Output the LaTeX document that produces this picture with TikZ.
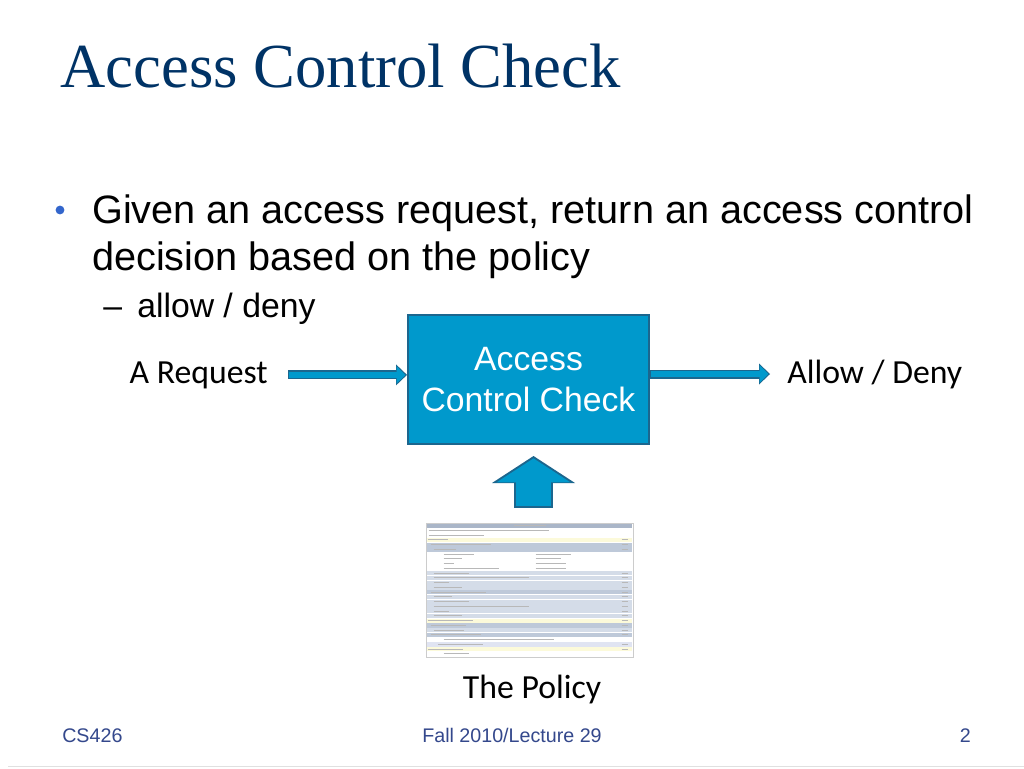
\documentclass[tikz,border=0pt]{standalone}
\usepackage{fontspec}
\setmainfont{Liberation Sans}
\newfontfamily\titlefont{Liberation Serif}
\newfontfamily\calfont{Carlito}
\usepackage{tikz}
\usetikzlibrary{arrows.meta,calc}

\definecolor{titleblue}{RGB}{0,51,102}
\definecolor{bulletblue}{RGB}{51,102,204}
\definecolor{footblue}{RGB}{52,72,140}
\definecolor{boxfill}{RGB}{0,153,204}
\definecolor{boxline}{RGB}{28,102,142}
\definecolor{hd}{RGB}{170,182,200}
\definecolor{bl}{RGB}{190,201,217}
\definecolor{lt}{RGB}{212,220,232}
\definecolor{yl}{RGB}{252,250,218}
\definecolor{lv}{RGB}{224,228,242}
\definecolor{wt}{RGB}{255,255,255}

\begin{document}
\begin{tikzpicture}[x=0.25mm,y=-0.25mm,inner sep=0pt]
\tikzstyle{label}=[font=\calfont\fontsize{24}{29}\selectfont]
\tikzstyle{body}=[font=\fontsize{28.2}{34}\selectfont,anchor=base west]
\tikzstyle{foot}=[font=\fontsize{14}{17}\selectfont,text=footblue]
\tikzstyle{checkbox}=[draw=boxline,line width=0.5mm,fill=boxfill,text=white,
    minimum width=60.25mm,minimum height=32.25mm,align=center,
    font=\fontsize{24}{29}\selectfont]
\tikzstyle{flowout}=[draw=boxline,line width=2.25mm,
    -{Triangle[length=2.75mm,width=5.25mm,line width=0pt]}]
\tikzstyle{flowin}=[draw=boxfill,line width=1.6mm,shorten >=0.4mm,shorten <=0.25mm,
    -{Triangle[length=2.2mm,width=4.35mm,line width=0pt]}]
\tikzstyle{bigout}=[draw=boxline,line width=9.75mm,
    -{Triangle[length=6.75mm,width=20.75mm,line width=0pt]}]
\tikzstyle{bigin}=[draw=boxfill,line width=8.75mm,shorten >=0.6mm,shorten <=0.5mm,
    -{Triangle[length=6mm,width=18.5mm,line width=0pt]}]
\tikzstyle{txt}=[draw=black!28,line width=0.22mm]

\useasboundingbox[fill=white] (0,0) rectangle (1024,768);

% title and bullets
\node[anchor=base west,text=titleblue,font=\titlefont\fontsize{44.6}{50}\selectfont]
    (title) at (60,87) {Access Control Check};
\fill[bulletblue] (60,210) circle[radius=1.1mm];
\node[body] (line1) at (92,223) {Given an access request, return an access control};
\node[body] (line2) at (92,270) {decision based on the policy};
\node[body,font=\fontsize{24}{29}\selectfont] (dash) at (103,317) {--};
\node[body,font=\fontsize{24}{29}\selectfont] (sub) at (137,317) {allow / deny};

% the check
\node[checkbox] (acc) at (528.5,379.5) {Access\\Control Check};
\node[label,anchor=base east] (req) at (268,383) {A Request};
\node[label,anchor=base west] (dec) at (787,383) {Allow / Deny};
\node[draw=black!20,line width=0.2mm,fill=white,minimum width=51.75mm,
    minimum height=33.5mm] (pol) at (529.5,590) {};
\node[label,anchor=base] (poltext) at (532,698) {The Policy};

\draw[flowout] ([xshift=5mm]req.east) -- (req.east -| acc.west);
\draw[flowin] ([xshift=5mm]req.east) -- (req.east -| acc.west);
\draw[flowout] (dec.west -| acc.east) -- ([xshift=-4.25mm]dec.west);
\draw[flowin] (dec.west -| acc.east) -- ([xshift=-4.25mm]dec.west);
\draw[bigout] ($(pol.north)+(4,-15)$) -- ($(acc.south)+(5,11)$);
\draw[bigin] ($(pol.north)+(4,-15)$) -- ($(acc.south)+(5,11)$);

% the policy page
\begin{scope}[shift={(pol.north west)}]
\foreach \i/\c/\x/\w in {0/hd/88/32,1/wt/3/120,2/wt/3/55,3/yl/2/20,4/bl/5/60,
    5/bl/8/22,6/wt/18/30,7/wt/18/18,8/wt/18/10,9/wt/18/55,10/lt/8/35,11/lt/8/95,
    12/lt/8/15,13/lt/8/28,14/bl/5/55,15/lt/8/18,16/lt/8/35,17/lt/8/95,18/lt/8/15,
    19/lt/8/28,20/yl/2/45,21/bl/5/35,22/lt/8/30,23/bl/5/50,24/wt/18/110,
    25/lv/12/45,26/yl/2/35,27/wt/18/25}{
  \fill[\c] (1,\i*4.75+0.9) rectangle (206,\i*4.75+5.2);
  \draw[txt] (\x,\i*4.75+3) -- ++(\w,0);
}
\foreach \i in {3,4,5,10,11,12,13,14,15,16,17,18,19,20,21,22,23,25,26}
  \draw[txt] (196,\i*4.75+3) -- ++(6,0);
\foreach \i/\w in {6/35,7/25,8/30,9/30}
  \draw[txt] (110,\i*4.75+3) -- ++(\w,0);
\end{scope}

% footer
\node[foot,anchor=base west] (course) at (62,742) {CS426};
\node[foot,anchor=base] (lecture) at (512,742) {Fall 2010/Lecture 29};
\node[foot,anchor=base east] (page) at (971,742) {2};
\draw[black!12,line width=0.25mm] (8,766.5) -- (1024,766.5);
\end{tikzpicture}
\end{document}
